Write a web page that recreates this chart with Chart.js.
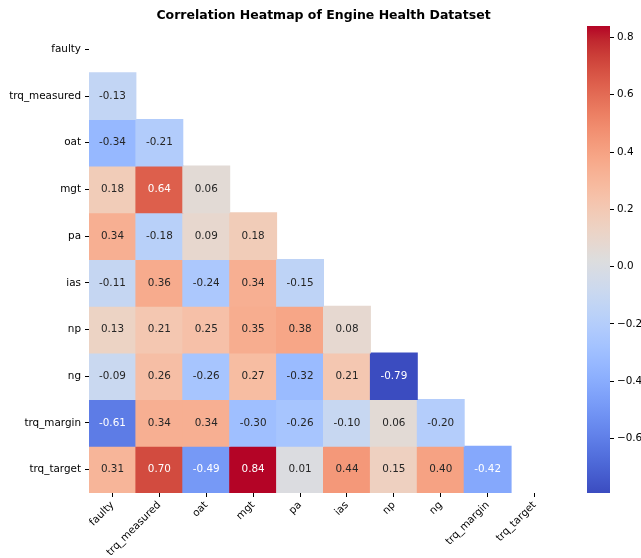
<!DOCTYPE html>
<html lang="en">
<head>
  <meta charset="UTF-8">
  <title>Engine Health Correlation</title>
  <script src="https://cdn.jsdelivr.net/npm/chart.js"></script>
  <style>
    html, body { margin: 0; padding: 0; background: #fff; }
    #wrap { position: relative; width: 641px; height: 558px; overflow: hidden; }
    #heatBox { position: absolute; left: 0; top: 0; width: 641px; height: 558px; }
    #barBox { position: absolute; left: 560px; top: 0; width: 81px; height: 558px; }
  </style>
</head>
<body>
  <div id="wrap">
    <div id="heatBox"><canvas id="heat"></canvas></div>
    <div id="barBox"><canvas id="cbar"></canvas></div>
  </div>

  <script>
    const features = ['faulty', 'trq_measured', 'oat', 'mgt', 'pa', 'ias', 'np', 'ng', 'trq_margin', 'trq_target'];
    // lower triangle of the correlation matrix, row by row (diagonal masked)
    const rowFaulty = [];
    const rowTrqMeasured = [-0.13];
    const rowOat = [-0.34, -0.21];
    const rowMgt = [0.18, 0.64, 0.06];
    const rowPa = [0.34, -0.18, 0.09, 0.18];
    const rowIas = [-0.11, 0.36, -0.24, 0.34, -0.15];
    const rowNp = [0.13, 0.21, 0.25, 0.35, 0.38, 0.08];
    const rowNg = [-0.09, 0.26, -0.26, 0.27, -0.32, 0.21, -0.79];
    const rowTrqMargin = [-0.61, 0.34, 0.34, -0.30, -0.26, -0.10, 0.06, -0.20];
    const rowTrqTarget = [0.31, 0.70, -0.49, 0.84, 0.01, 0.44, 0.15, 0.40, -0.42];
    const corrRows = [rowFaulty, rowTrqMeasured, rowOat, rowMgt, rowPa, rowIas, rowNp, rowNg, rowTrqMargin, rowTrqTarget];
    const cbarTicks = [-0.6, -0.4, -0.2, 0.0, 0.2, 0.4, 0.6, 0.8];

    const allVals = corrRows.flat();
    const vmin = Math.min(...allVals), vmax = Math.max(...allVals);

    // coolwarm (Moreland) control points
    const coolwarm = [
      [59,76,192],[68,90,204],[77,104,215],[87,117,225],[98,130,234],[108,142,241],[119,154,247],[130,165,251],
      [141,176,254],[152,185,255],[163,194,255],[174,201,253],[184,208,249],[194,213,244],[204,217,238],[213,219,230],
      [221,221,221],[229,216,209],[236,211,197],[241,204,185],[245,196,173],[247,187,160],[247,177,148],[247,166,135],
      [244,154,123],[241,141,111],[236,127,99],[229,112,88],[222,96,77],[213,80,66],[203,62,56],[192,40,47],[180,4,38]
    ];
    function cmap(t) {
      t = Math.max(0, Math.min(1, t));
      const p = t * (coolwarm.length - 1), i = Math.min(Math.floor(p), coolwarm.length - 2), f = p - i;
      return coolwarm[i].map((c, k) => Math.round(c + (coolwarm[i + 1][k] - c) * f));
    }
    const norm = v => (v - vmin) / (vmax - vmin);
    const rgb = c => `rgb(${c[0]},${c[1]},${c[2]})`;
    function luminance(c) {
      const lin = c.map(x => { x /= 255; return x <= 0.03928 ? x / 12.92 : Math.pow((x + 0.055) / 1.055, 2.4); });
      return 0.2126 * lin[0] + 0.7152 * lin[1] + 0.0722 * lin[2];
    }

    const FONT = 'DejaVu Sans';
    const FS = 10.4;

    // one floating-bar dataset per row; bars span [row-0.5, row+0.5]
    const datasets = corrRows.map((vals, r) => ({
      label: features[r],
      data: vals.map((v, c) => ({ x: features[c], y: [r - 0.5, r + 0.5], v: v })),
      backgroundColor: vals.map(v => rgb(cmap(norm(v)))),
      borderWidth: 0,
      inflateAmount: 0.5,
      barPercentage: 1,
      categoryPercentage: 1,
      grouped: false
    }));

    const cellLabels = {
      id: 'cellLabels',
      afterDatasetsDraw(chart) {
        const ctx = chart.ctx;
        ctx.save();
        ctx.font = `${FS}px "${FONT}"`;
        ctx.textAlign = 'center';
        ctx.textBaseline = 'middle';
        chart.data.datasets.forEach((ds, di) => {
          chart.getDatasetMeta(di).data.forEach((bar, i) => {
            const v = ds.data[i].v;
            ctx.fillStyle = luminance(cmap(norm(v))) > 0.408 ? '#262626' : '#ffffff';
            const cy = (bar.y + bar.base) / 2;
            ctx.fillText(v.toFixed(2), bar.x, cy);
          });
        });
        ctx.restore();
      }
    };

    new Chart(document.getElementById('heat'), {
      type: 'bar',
      data: { labels: features, datasets: datasets },
      options: {
        responsive: true,
        maintainAspectRatio: false,
        animation: false,
        layout: { padding: { left: 0, right: 83, top: 0, bottom: 0 } },
        plugins: {
          legend: { display: false },
          tooltip: { enabled: false },
          title: {
            display: true,
            fullSize: false,
            text: 'Correlation Heatmap of Engine Health Datatset',
            color: '#000',
            font: { family: FONT, size: 12.5, weight: 'bold', lineHeight: 1.2 },
            padding: { top: 8, bottom: 3 }
          }
        },
        scales: {
          x: {
            type: 'category',
            offset: true,
            grid: { display: true, drawOnChartArea: false, drawTicks: true, tickLength: 4, tickWidth: 1, tickColor: '#000', offset: false },
            border: { display: false },
            ticks: { color: '#000', font: { family: FONT, size: FS }, maxRotation: 45, minRotation: 45, padding: 2, autoSkip: false },
            afterFit: s => { s.height = 65; }
          },
          y: {
            type: 'linear',
            reverse: true,
            min: -0.5,
            max: 9.5,
            afterBuildTicks: s => { s.ticks = features.map((f, i) => ({ value: i })); },
            grid: { display: true, drawOnChartArea: false, drawTicks: true, tickLength: 4, tickWidth: 1, tickColor: '#000' },
            border: { display: false },
            ticks: { color: '#000', font: { family: FONT, size: FS }, padding: 4, callback: v => features[v] },
            afterFit: s => { s.width = 89; }
          }
        }
      },
      plugins: [cellLabels]
    });

    // colorbar: a single floating bar spanning the data range, filled with the colormap
    new Chart(document.getElementById('cbar'), {
      type: 'bar',
      data: {
        labels: [''],
        datasets: [{
          data: [[vmin, vmax]],
          borderWidth: 0,
          barPercentage: 1,
          categoryPercentage: 1,
          backgroundColor: (ctx) => {
            const area = ctx.chart.chartArea;
            if (!area) return '#ddd';
            const g = ctx.chart.ctx.createLinearGradient(0, area.bottom, 0, area.top);
            coolwarm.forEach((c, i) => g.addColorStop(i / (coolwarm.length - 1), rgb(c)));
            return g;
          }
        }]
      },
      options: {
        responsive: true,
        maintainAspectRatio: false,
        animation: false,
        layout: { padding: { left: 27, right: 0, top: 26, bottom: 65 } },
        plugins: { legend: { display: false }, tooltip: { enabled: false } },
        scales: {
          x: { display: false },
          y: {
            position: 'right',
            min: vmin,
            max: vmax,
            afterBuildTicks: s => { s.ticks = cbarTicks.map(v => ({ value: v })); },
            grid: { display: true, drawOnChartArea: false, drawTicks: true, tickLength: 4, tickColor: '#000' },
            border: { display: false },
            ticks: {
              color: '#000',
              font: { family: FONT, size: FS },
              padding: 3,
              callback: v => v.toFixed(1).replace('-', '\u2212')
            },
            afterFit: s => { s.width = 31; }
          }
        }
      }
    });
  </script>
</body>
</html>
